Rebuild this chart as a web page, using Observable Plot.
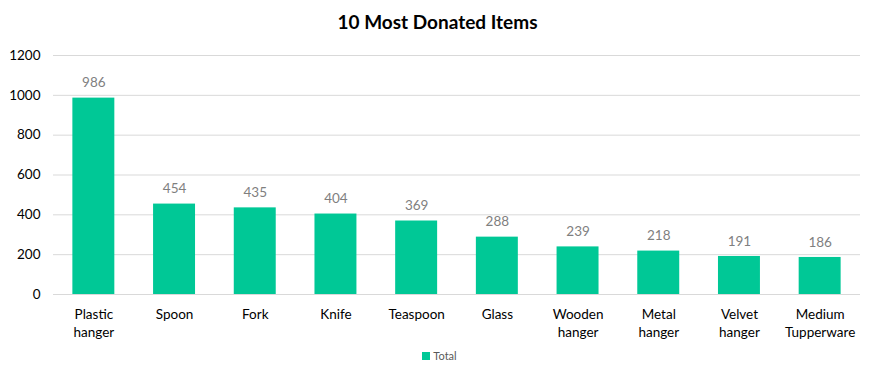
<!DOCTYPE html>
<html>
<head>
<meta charset="utf-8">
<script src="https://cdn.jsdelivr.net/npm/d3@7"></script>
<script src="https://cdn.jsdelivr.net/npm/@observablehq/plot@0.6"></script>
<style>
  html, body { margin: 0; padding: 0; background: #fff; }
  body { width: 875px; height: 381px; overflow: hidden; font-family: Lato, "Open Sans", sans-serif; }
  #title { height: 40px; line-height: 44px; text-align: center; font-size: 19px; font-weight: bold; color: #000; }
  #legend { display: flex; justify-content: center; align-items: center; gap: 3px; font-size: 11px; color: #595959; margin-top: 2px; padding-left: 4px; }
  #legend .sw { width: 8px; height: 8px; background: #00C896; display: inline-block; }
</style>
</head>
<body>
<div id="title">10 Most Donated Items</div>
<div id="chart"></div>
<div id="legend"><span class="sw"></span><span>Total</span></div>
<script>
const items = ["Plastic\nhanger", "Spoon", "Fork", "Knife", "Teaspoon", "Glass", "Wooden\nhanger", "Metal\nhanger", "Velvet\nhanger", "Medium\nTupperware"];
const totals = [986, 454, 435, 404, 369, 288, 239, 218, 191, 186];
const yTicks = [0, 200, 400, 600, 800, 1000, 1200];

const data = items.map((item, i) => ({item, total: totals[i]}));

const chart = Plot.plot({
  width: 875,
  height: 307,
  marginTop: 15,
  marginBottom: 53,
  marginLeft: 53,
  marginRight: 15,
  style: {fontFamily: "Lato, 'Open Sans', sans-serif", fontSize: "13.5px", color: "#000", background: "#fff"},
  x: {domain: items, paddingInner: 0.48, paddingOuter: 0.24, round: false, label: null},
  y: {domain: [0, 1200], ticks: yTicks, label: null},
  marks: [
    Plot.gridY(yTicks, {stroke: "#d9d9d9", strokeOpacity: 1, strokeWidth: 1}),
    Plot.barY(data, {x: "item", y: "total", fill: "#00C896"}),
    Plot.text(data, {x: "item", y: "total", text: d => String(d.total), dy: -15, fill: "#7f7f7f", fontSize: 13.5}),
    Plot.axisY({ticks: yTicks, tickFormat: d => String(d), tickSize: 0, tickPadding: 13, label: null, fontSize: 13.5, fill: "#000"}),
    Plot.axisX({tickSize: 0, tickPadding: 12, label: null, fontSize: 13.5, fill: "#000", lineHeight: 1.33})
  ]
});
document.getElementById("chart").appendChild(chart);
</script>
</body>
</html>
